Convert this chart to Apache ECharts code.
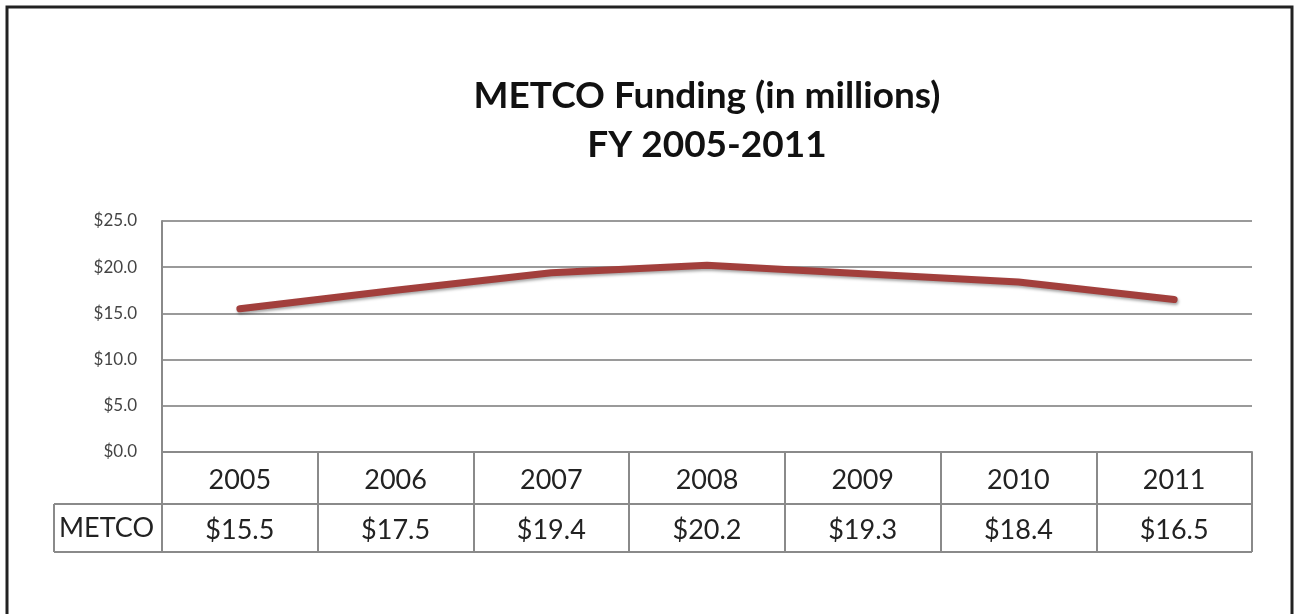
<!DOCTYPE html>
<html><head><meta charset="utf-8">
<script src="https://cdn.jsdelivr.net/npm/echarts@6/dist/echarts.min.js"></script>
<style>html,body{margin:0;padding:0;background:#fff}#c{width:1297px;height:614px}</style>
</head><body><div id="c"></div>
<script>
const categories = ['2005','2006','2007','2008','2009','2010','2011'];
const seriesName = 'METCO';
const metcoValues = [15.5, 17.5, 19.4, 20.2, 19.3, 18.4, 16.5];
const yTicks = {min: 0, max: 25, interval: 5};
const titleLines = ['METCO Funding (in millions)', 'FY 2005-2011'];

const FONT = 'Lato, "Open Sans", sans-serif';
const chart = echarts.init(document.getElementById('c'));
const gridL = 162, gridR = 1252, gridT = 221, gridB = 452;
chart.setOption({
  animation: false,
  backgroundColor: '#fff',
  title: {
    text: titleLines.join('\n'), left: 702, top: 67, textAlign: 'center',
    textStyle: {fontFamily: FONT, fontWeight: 'bold', fontSize: 37, color: '#111', lineHeight: 49}
  },
  grid: {left: gridL, right: 1297 - gridR, top: gridT, bottom: 614 - gridB, containLabel: false},
  xAxis: [{
    type: 'category', data: categories, boundaryGap: true, position: 'bottom',
    axisLine: {show: true, lineStyle: {color: '#8a8a8a', width: 2}},
    axisTick: {show: true, length: 52, alignWithLabel: false, lineStyle: {color: '#8a8a8a', width: 2}},
    axisLabel: {fontFamily: FONT, fontSize: 27, color: '#222', margin: 15},
    splitLine: {show: false}
  }, {
    type: 'category', data: metcoValues.map(v => '$' + v.toFixed(1)), boundaryGap: true,
    position: 'bottom', offset: 52,
    axisLine: {show: true, lineStyle: {color: '#8a8a8a', width: 2}},
    axisTick: {show: true, length: 48, alignWithLabel: false, lineStyle: {color: '#8a8a8a', width: 2}},
    axisLabel: {fontFamily: FONT, fontSize: 27, color: '#222', margin: 13},
    splitLine: {show: false}
  }],
  yAxis: {
    type: 'value', min: yTicks.min, max: yTicks.max, interval: yTicks.interval,
    axisLine: {show: true, lineStyle: {color: '#8a8a8a', width: 2}},
    axisTick: {show: false},
    axisLabel: {fontFamily: FONT, fontSize: 17, color: '#444', margin: 25,
      formatter: v => '$' + v.toFixed(1)},
    splitLine: {show: true, lineStyle: {color: '#9a9a9a', width: 2}}
  },
  series: [{
    name: seriesName, type: 'line', data: metcoValues, xAxisIndex: 0,
    symbol: 'none', smooth: false,
    lineStyle: {color: '#a23f3c', width: 7, cap: 'round',
      shadowColor: 'rgba(0,0,0,0.35)', shadowBlur: 3, shadowOffsetX: 1, shadowOffsetY: 2}
  }],
  graphic: [
    {type: 'rect', shape: {x: 7, y: 7, width: 1285, height: 620}, style: {fill: 'none', stroke: '#222', lineWidth: 3}, z: 10},
    {type: 'line', shape: {x1: 54, y1: 504, x2: gridL, y2: 504}, style: {stroke: '#8a8a8a', lineWidth: 2}},
    {type: 'line', shape: {x1: 54, y1: 552, x2: gridR, y2: 552}, style: {stroke: '#8a8a8a', lineWidth: 2}},
    {type: 'line', shape: {x1: 54, y1: 504, x2: 54, y2: 552}, style: {stroke: '#8a8a8a', lineWidth: 2}},
    {type: 'line', shape: {x1: gridL, y1: 452, x2: gridL, y2: 552}, style: {stroke: '#8a8a8a', lineWidth: 2}},
    {type: 'text', left: 59, top: 515, style: {text: seriesName, fontFamily: FONT, fontSize: 27, fill: '#222'}}
  ]
});
</script></body></html>
